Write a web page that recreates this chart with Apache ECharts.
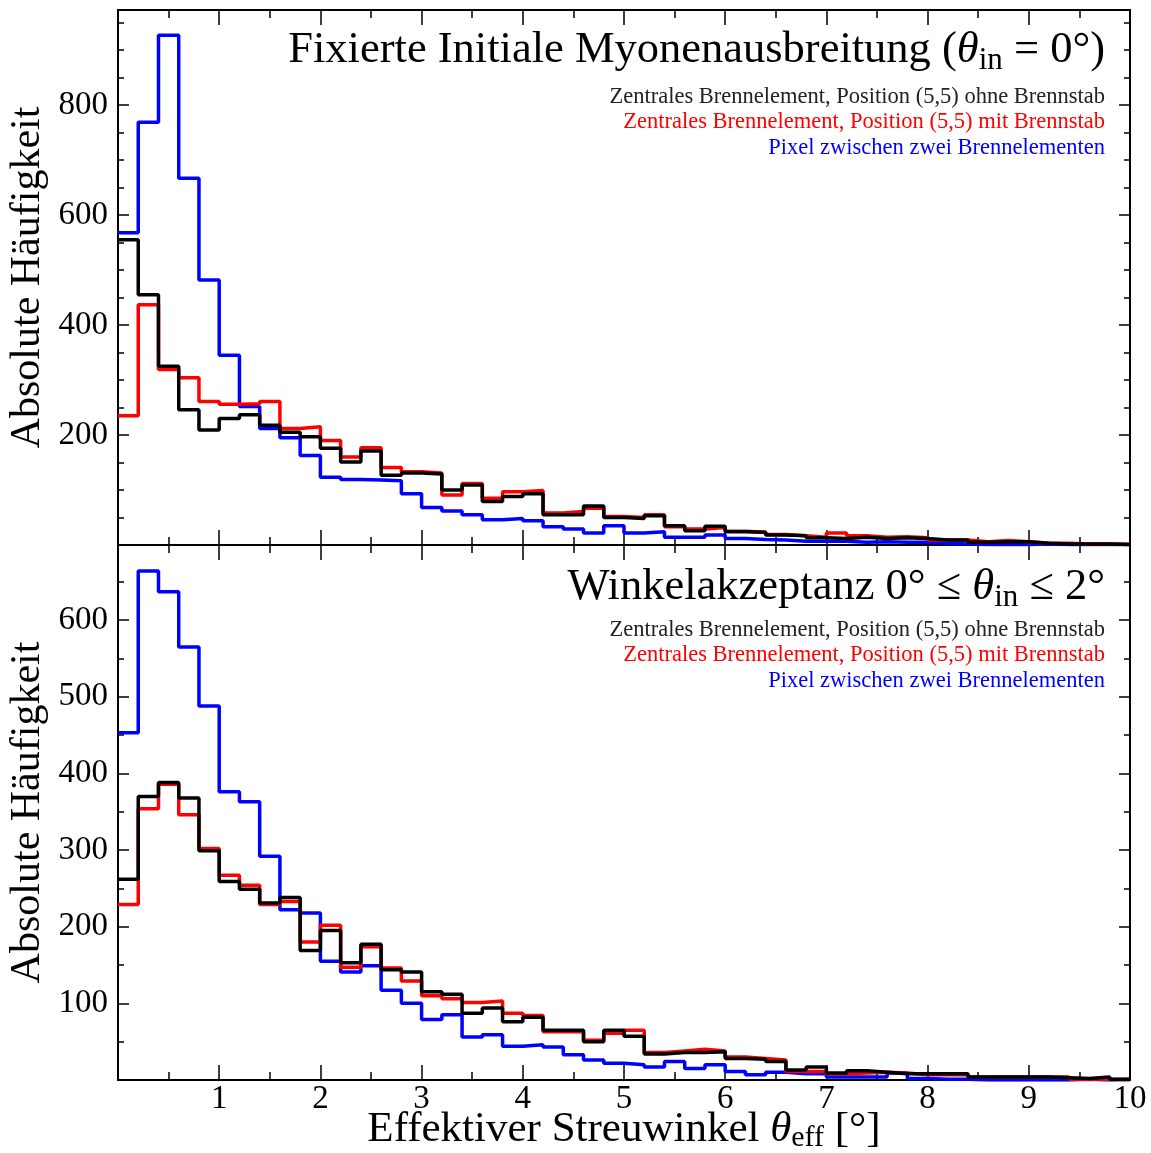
<!DOCTYPE html>
<html>
<head>
<meta charset="utf-8">
<script src="https://cdn.jsdelivr.net/npm/echarts@6/dist/echarts.min.js"></script>
<style>
html,body{margin:0;padding:0;background:#fff;}
#chart{width:1151px;height:1153px;}
</style>
</head>
<body>
<div id="chart"></div>
<script>
// Bin width 0.2 deg, 50 bins from 0 to 10
const binCount = 50;
const binWidth = 0.2;
const xTickLabels = ['1','2','3','4','5','6','7','8','9','10'];

// Top panel: theta_in = 0
const topBlack = [555,455,325,246,209,230,237,218,205,197,176,151,171,127,131,129,100,109,79,88,93,55,55,71,50,48,53,35,26,34,24,23,18,17,13,12,14,12,13,12,9,9,5,6,6,3,2,2,2,1];
const topRed   = [235,437,319,304,261,256,257,261,212,215,190,160,177,141,133,131,91,112,85,97,99,58,61,67,52,50,55,33,29,32,25,23,19,17,14,22,17,14,15,13,9,9,6,8,6,3,3,2,2,1];
const topBlue  = [568,769,927,667,482,345,252,212,195,163,123,119,118,117,93,68,62,55,46,48,44,33,29,22,35,22,24,14,14,18,12,10,9,7,7,7,5,6,5,5,3,2,1,1,1,2,1,1,1,1];

// Bottom panel: 0 <= theta_in <= 2
const botBlack = [262,370,388,368,299,259,249,231,238,169,195,153,177,144,141,115,112,87,94,76,82,65,65,50,65,57,34,36,36,37,28,27,24,13,17,9,12,10,8,8,8,8,4,4,4,4,3,2,4,1];
const botRed   = [229,354,386,346,302,267,254,229,233,180,202,147,174,146,129,110,106,101,103,87,84,63,63,52,61,65,36,38,40,38,30,28,26,11,11,8,9,10,9,7,7,7,4,4,4,4,4,1,1,0];
const botBlue  = [453,664,637,565,488,376,363,292,222,218,155,141,149,117,100,79,85,56,59,44,46,43,33,26,22,20,17,24,15,20,11,7,10,8,8,4,4,4,9,2,1,1,0,0,0,0,0,1,0,1];

const topYTicks = ['200','400','600','800'];
const botYTicks = ['100','200','300','400','500','600'];
const seriesNames = [
  'Zentrales Brennelement, Position (5,5) ohne Brennstab',
  'Zentrales Brennelement, Position (5,5) mit Brennstab',
  'Pixel zwischen zwei Brennelementen'
];

const FONT = 'Liberation Serif';

function stepData(vals){
  const d = [];
  for (let i = 0; i < binCount; i++) d.push([+(i*binWidth).toFixed(2), vals[i]]);
  d.push([binCount*binWidth, vals[binCount-1]]);
  return d;
}

function xAx(grid, pos, labels){
  return {
    type:'value', gridIndex:grid, position:pos, min:0, max:10, interval:1,
    axisLine:{show:true, onZero:false, lineStyle:{color:'#000', width:2}},
    axisTick:{show:true, inside:true, length:15, lineStyle:{color:'#000', width:1.5}},
    minorTick:{show:true, splitNumber:2, length:8, lineStyle:{color:'#000', width:1.5}},
    splitLine:{show:false},
    axisLabel:{show:labels, color:'#000', fontFamily:FONT, fontSize:33, margin:3,
      formatter:v => xTickLabels.indexOf(String(v)) >= 0 ? String(v) : ''}
  };
}
function yAx(grid, pos, max, interval, minorSplit, labels, ticks){
  return {
    type:'value', gridIndex:grid, position:pos, min:0, max:max, interval:interval,
    axisLine:{show:true, onZero:false, lineStyle:{color:'#000', width:2}},
    axisTick:{show:true, inside:true, length:11, lineStyle:{color:'#000', width:1.5}},
    minorTick:{show:true, splitNumber:minorSplit, length:6, lineStyle:{color:'#000', width:1.5}},
    splitLine:{show:false},
    axisLabel:{show:labels, color:'#000', fontFamily:FONT, fontSize:33, margin:10,
      showMinLabel:false, showMaxLabel:false,
      formatter:v => ticks.indexOf(String(v)) >= 0 ? String(v) : ''}
  };
}

const xAxes = [xAx(0,'bottom',false), xAx(0,'top',false), xAx(1,'bottom',true), xAx(1,'top',false)];
xAxes[2].name = '{n|Effektiver Streuwinkel }{t|θ}{s|eff}{n| [°]}';
xAxes[2].nameLocation = 'middle';
xAxes[2].nameGap = 27;
xAxes[2].nameMoveOverlap = false;
xAxes[2].nameTextStyle = {
  rich:{
    n:{fontFamily:FONT, fontSize:43, color:'#000', lineHeight:46},
    t:{fontFamily:FONT, fontSize:43, color:'#000', fontStyle:'italic', lineHeight:46},
    s:{fontFamily:FONT, fontSize:30, color:'#000', lineHeight:30, verticalAlign:'bottom'}
  }
};

const yAxes = [
  yAx(0,'left',973,200,4,true,topYTicks), yAx(0,'right',973,200,4,false,topYTicks),
  yAx(1,'left',698,100,2,true,botYTicks), yAx(1,'right',698,100,2,false,botYTicks)
];
[0,2].forEach(i => {
  yAxes[i].name = 'Absolute Häufigkeit';
  yAxes[i].nameLocation = 'middle';
  yAxes[i].nameGap = 69;
  yAxes[i].nameMoveOverlap = false;
  yAxes[i].nameTextStyle = {fontFamily:FONT, fontSize:42, color:'#000'};
});

function ser(name, vals, color, xi, yi){
  return {name:name, type:'line', step:'end', data:stepData(vals), xAxisIndex:xi, yAxisIndex:yi,
    symbol:'none', showSymbol:false, lineStyle:{color:color, width:3.5}, itemStyle:{color:color}};
}

const richTitle = {
  n:{fontFamily:FONT, fontSize:44.5, fill:'#000', lineHeight:52},
  t:{fontFamily:FONT, fontSize:44.5, fill:'#000', fontStyle:'italic', lineHeight:52},
  s:{fontFamily:FONT, fontSize:31, fill:'#000', lineHeight:31, verticalAlign:'bottom'}
};
function txt(y, text, color, size, rich){
  const st = {text:text, fill:color, fontFamily:FONT, fontSize:size, align:'right', verticalAlign:'middle'};
  if (rich) st.rich = rich;
  return {type:'text', x:1105, y:y, style:st, z:100};
}

const option = {
  animation:false,
  backgroundColor:'#fff',
  grid:[
    {left:118, right:21, top:10, height:535, outerBoundsMode:'none', containLabel:false},
    {left:118, right:21, top:545, height:535, outerBoundsMode:'none', containLabel:false}
  ],
  xAxis:xAxes,
  yAxis:yAxes,
  series:[
    ser(seriesNames[2], topBlue, '#0000ff', 0, 0),
    ser(seriesNames[1], topRed, '#ff0000', 0, 0),
    ser(seriesNames[0], topBlack, '#000000', 0, 0),
    ser(seriesNames[2], botBlue, '#0000ff', 2, 2),
    ser(seriesNames[1], botRed, '#ff0000', 2, 2),
    ser(seriesNames[0], botBlack, '#000000', 2, 2)
  ],
  graphic:[
    txt(50, '{n|Fixierte Initiale Myonenausbreitung (}{t|θ}{s|in}{n| = 0°)}', '#000', 44.5, richTitle),
    txt(97, seriesNames[0], '#222', 22.5),
    txt(122, seriesNames[1], '#ff0000', 22.5),
    txt(148, seriesNames[2], '#0000ff', 22.5),
    txt(587, '{n|Winkelakzeptanz 0° ≤ }{t|θ}{s|in}{n| ≤ 2°}', '#000', 44.5, richTitle),
    txt(630, seriesNames[0], '#222', 22.5),
    txt(655, seriesNames[1], '#ff0000', 22.5),
    txt(681, seriesNames[2], '#0000ff', 22.5)
  ]
};

const chart = echarts.init(document.getElementById('chart'), null, {renderer:'canvas'});
chart.setOption(option);
</script>
</body>
</html>
